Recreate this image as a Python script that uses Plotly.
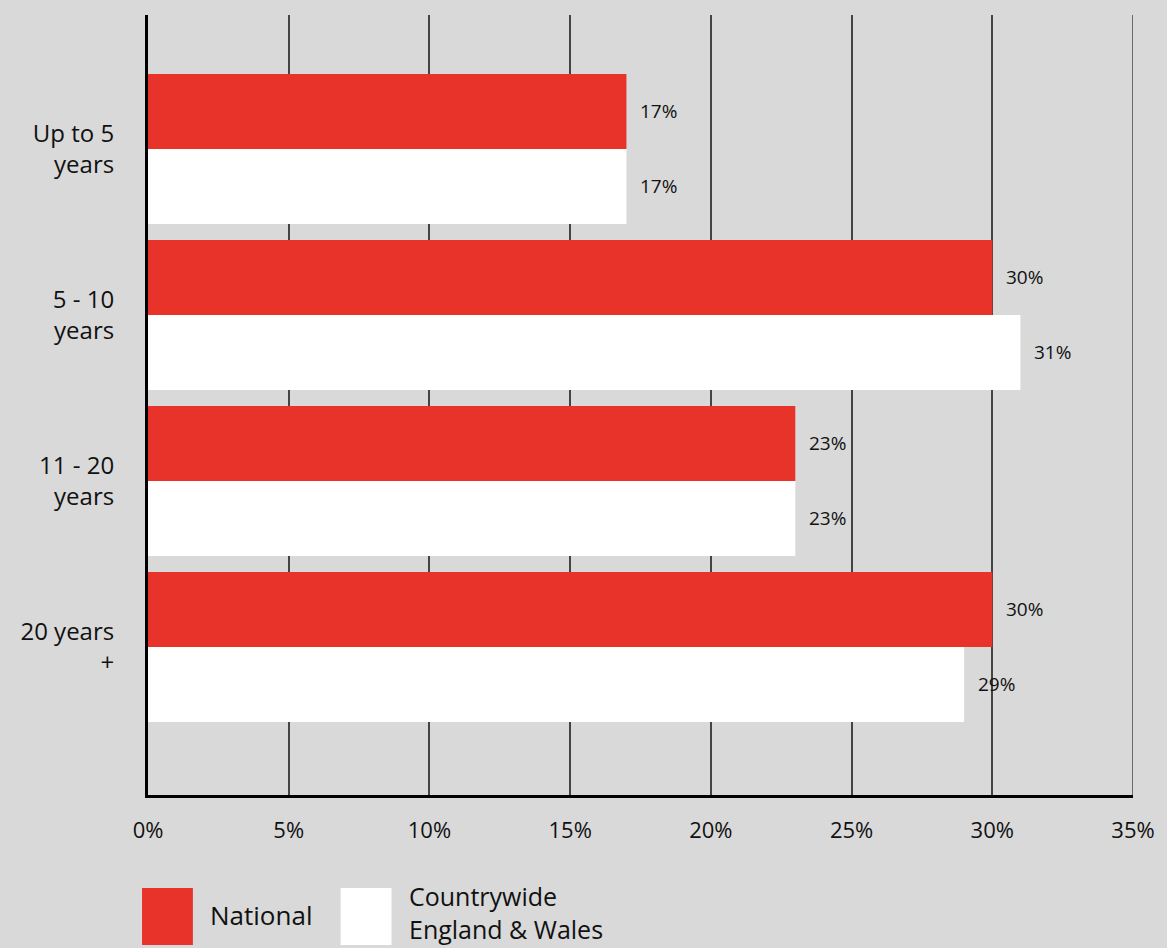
import plotly.graph_objects as go

categories = ["Up to 5<br>years", "5 - 10<br>years", "11 - 20<br>years", "20 years<br>+"]
national = [17, 30, 23, 30]
countrywide = [17, 31, 23, 29]
series_names = ["National", "Countrywide<br>England & Wales"]
colors = ["#E8332A", "#FFFFFF"]
x_ticks = [0, 5, 10, 15, 20, 25, 30, 35]

FONT = "Open Sans"
fig = go.Figure()
for name, vals, col in zip(series_names, [national, countrywide], colors):
    fig.add_trace(go.Bar(
        y=categories, x=vals, orientation="h", name=name,
        marker=dict(color=col, line=dict(width=0)),
        showlegend=False,
    ))

# value labels
for k, vals in enumerate([national, countrywide]):
    for i, v in enumerate(vals):
        fig.add_annotation(
            x=v, y=i + (-0.226 if k == 0 else 0.226), xref="x", yref="y",
            text=f"{v}%", showarrow=False, xanchor="left", yanchor="middle",
            xshift=12, font=dict(family=FONT, size=19, color="#111111"),
        )

fig.update_layout(
    width=1167, height=948,
    paper_bgcolor="#D9D9D9", plot_bgcolor="#D9D9D9",
    margin=dict(l=148, r=32, t=15, b=153),
    barmode="group", bargap=0.096, bargroupgap=0,
    font=dict(family=FONT, color="#111111"),
)
fig.update_xaxes(
    range=[0, 35], tickvals=x_ticks, ticktext=[f"{t}%" for t in x_ticks],
    showgrid=True, gridcolor="#444444", gridwidth=1.5,
    showline=True, linecolor="#000000", linewidth=3,
    zeroline=False, ticks="", ticklabelstandoff=14,
    tickfont=dict(family=FONT, size=22, color="#111111"),
)
fig.update_yaxes(
    type="category", categoryorder="array", categoryarray=categories,
    range=[3.892, -0.807],
    showgrid=False, showline=True, linecolor="#000000", linewidth=3,
    ticks="", ticklabelstandoff=26,
    tickfont=dict(family=FONT, size=24, color="#111111"),
)

# gridline at the right end of the range (plotly omits it at the edge)
fig.add_shape(type="line", xref="x", yref="paper", x0=x_ticks[-1], x1=x_ticks[-1],
              y0=0, y1=1, line=dict(color="#444444", width=1.5), layer="below")

# legend drawn manually
box_x = [142, 341]
text_x = [209, 409]
for col, bx in zip(colors, box_x):
    fig.add_shape(type="rect", xref="paper", yref="paper",
                  x0=(bx - 148) / 987, x1=(bx + 51 - 148) / 987,
                  y0=(795 - 945) / 780, y1=(795 - 888) / 780,
                  fillcolor=col, line=dict(width=0))

fig.add_annotation(xref="paper", yref="paper", x=(text_x[0] - 148) / 987,
                   y=(795 - 915) / 780, text=series_names[0], showarrow=False,
                   xanchor="left", yanchor="middle", align="left", borderpad=0,
                   font=dict(family=FONT, size=26, color="#111111"))
fig.add_annotation(xref="paper", yref="paper", x=(text_x[1] - 148) / 987,
                   y=(795 - 947) / 780, text=series_names[1], showarrow=False,
                   xanchor="left", yanchor="bottom", align="left", borderpad=0,
                   font=dict(family=FONT, size=25, color="#111111"))

fig.write_html("out.html", config={"displayModeBar": False})
with open("out.html", "r", encoding="utf-8") as f:
    html = f.read()
html = html.replace("<head>", "<head><style>html,body{margin:0;padding:0;overflow:hidden;}</style>", 1)
with open("out.html", "w", encoding="utf-8") as f:
    f.write(html)
